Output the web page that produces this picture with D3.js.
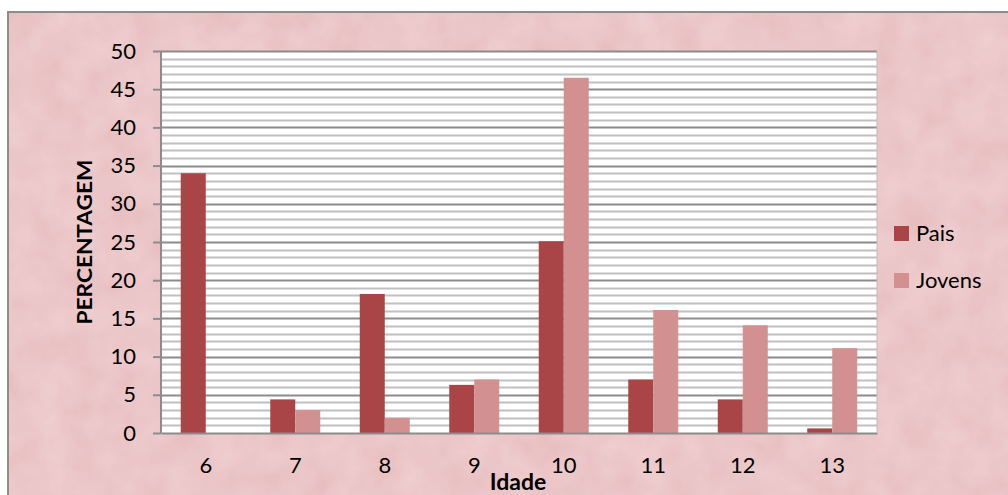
<!DOCTYPE html>
<html>
<head>
<meta charset="utf-8">
<script src="https://cdn.jsdelivr.net/npm/d3@7"></script>
<style>
  body { margin: 0; background: #fff; }
  svg { display: block; }
</style>
</head>
<body>
<div id="chart"></div>
<script>
// data
var idades = ['6', '7', '8', '9', '10', '11', '12', '13'];
var pais = [34, 4.4, 18.2, 6.3, 25.1, 7, 4.4, 0.6];
var jovens = [0, 3, 2, 7, 46.5, 16.1, 14.1, 11.1];
var series = ['Pais', 'Jovens'];
var yTicks = [0, 5, 10, 15, 20, 25, 30, 35, 40, 45, 50];

var W = 1008, H = 495;
var margin = { top: 51, right: 131, bottom: 62, left: 161 };
var width = W - margin.left - margin.right;
var height = H - margin.top - margin.bottom;
var font = 'Lato, "Open Sans", sans-serif';

var colors = d3.scaleOrdinal().domain(series).range(['#a94546', '#d39091']);

var svg = d3.select('#chart').append('svg')
    .attr('width', W)
    .attr('height', H)
    .style('font-family', font);

// pink textured backdrop
var defs = svg.append('defs');
var f = defs.append('filter').attr('id', 'tex').attr('x', 0).attr('y', 0).attr('width', '100%').attr('height', '100%');
f.append('feTurbulence').attr('type', 'fractalNoise').attr('baseFrequency', 0.03).attr('numOctaves', 3).attr('seed', 4).attr('result', 'n');
f.append('feColorMatrix').attr('in', 'n').attr('type', 'matrix')
    .attr('values', '0 0 0 0 0.96  0 0 0 0 0.82  0 0 0 0 0.83  0 0 0 0.45 -0.05').attr('result', 'c');
f.append('feComposite').attr('in', 'c').attr('in2', 'SourceGraphic').attr('operator', 'over');

svg.append('rect')
    .attr('x', 8).attr('y', 12)
    .attr('width', W).attr('height', H)
    .attr('fill', '#e8bec0')
    .attr('filter', 'url(#tex)');
svg.append('rect')
    .attr('x', 8).attr('y', 12)
    .attr('width', W + 10).attr('height', H + 10)
    .attr('fill', 'none')
    .attr('stroke', '#8c8c8c')
    .attr('stroke-width', 2);

var g = svg.append('g')
    .attr('transform', 'translate(' + margin.left + ',' + margin.top + ')');

var yScale = d3.scaleLinear().domain([0, 50]).range([height, 0]);

var xScale = d3.scaleBand().domain(idades).range([0, width]).padding(0);
var inner = d3.scaleBand().domain(series)
    .range([xScale.bandwidth() / 2 - 25, xScale.bandwidth() / 2 + 25]);

// plot background
g.append('rect').attr('width', width).attr('height', height).attr('fill', '#fff');

// minor gridlines
g.append('g').selectAll('line').data(d3.range(1, 50).filter(function(d) { return d % 5 != 0; }))
  .enter().append('line')
    .attr('x1', 0).attr('x2', width)
    .attr('y1', function(d) { return Math.round(yScale(d)) + 0.5; })
    .attr('y2', function(d) { return Math.round(yScale(d)) + 0.5; })
    .attr('stroke', '#c0c0c0').attr('stroke-width', 2);

// major gridlines
g.append('g').selectAll('line').data(yTicks.slice(1))
  .enter().append('line')
    .attr('x1', 0).attr('x2', width)
    .attr('y1', function(d) { return Math.round(yScale(d)) + 0.5; })
    .attr('y2', function(d) { return Math.round(yScale(d)) + 0.5; })
    .attr('stroke', '#8c8c8c').attr('stroke-width', 2);

// bars
var rows = idades.map(function(d, i) { return { idade: d, vals: [pais[i], jovens[i]] }; });
g.append('g').selectAll('g').data(rows)
  .enter().append('g')
    .attr('transform', function(d) { return 'translate(' + xScale(d.idade) + ',0)'; })
  .selectAll('rect').data(function(d) { return d.vals.map(function(v, j) { return { s: series[j], v: v }; }); })
  .enter().append('rect')
    .attr('x', function(d) { return inner(d.s); })
    .attr('width', inner.bandwidth())
    .attr('y', function(d) { return yScale(d.v); })
    .attr('height', function(d) { return height - yScale(d.v); })
    .style('fill', function(d) { return colors(d.s); });

// y axis
var yAxis = g.append('g')
    .call(d3.axisLeft(yScale).tickValues(yTicks).tickSize(8).tickPadding(17));
yAxis.select('.domain').attr('stroke', '#8c8c8c').attr('stroke-width', 2).attr('d', 'M0,0V' + height);
yAxis.selectAll('.tick line').attr('stroke', '#8c8c8c').attr('stroke-width', 2);
yAxis.selectAll('.tick text').attr('font-size', 22).attr('fill', '#000').attr('font-family', font);

// x axis line
var xAxis = g.append('g')
    .attr('transform', 'translate(0,' + height + ')')
    .call(d3.axisBottom(xScale).tickSize(0).tickPadding(24));
xAxis.select('.domain').attr('stroke', '#8c8c8c').attr('stroke-width', 2);
xAxis.selectAll('.tick text').attr('font-size', 22).attr('fill', '#000').attr('font-family', font);

// right edge of plot
g.append('line').attr('x1', width).attr('x2', width).attr('y1', 0).attr('y2', height)
    .attr('stroke', '#bdbdbd').attr('stroke-width', 1);

// axis titles
svg.append('text')
    .attr('transform', 'translate(92,242) rotate(-90)')
    .attr('text-anchor', 'middle')
    .attr('font-weight', 'bold')
    .attr('font-size', 20)
    .attr('textLength', 165)
    .attr('lengthAdjust', 'spacingAndGlyphs')
    .text('PERCENTAGEM');

svg.append('text')
    .attr('x', 518).attr('y', 490)
    .attr('text-anchor', 'middle')
    .attr('font-weight', 'bold')
    .attr('font-size', 23)
    .text('Idade');

// legend
var legend = svg.append('g').attr('transform', 'translate(894,226)');
var items = legend.selectAll('g').data(series).enter().append('g')
    .attr('transform', function(d, i) { return 'translate(0,' + (i * 47) + ')'; });
items.append('rect').attr('width', 15).attr('height', 15).style('fill', function(d) { return colors(d); });
items.append('text').attr('x', 22).attr('y', 15).attr('font-size', 22).text(function(d) { return d; });
</script>
</body>
</html>
